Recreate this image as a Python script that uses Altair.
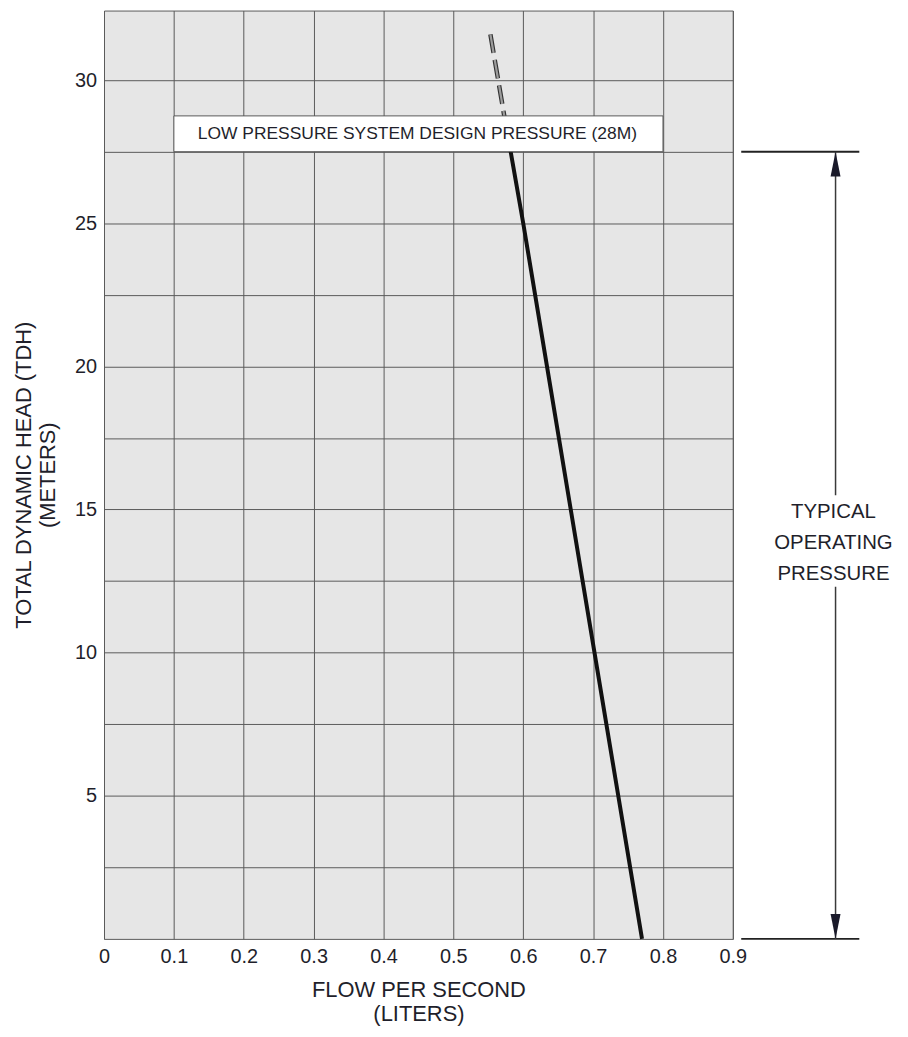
import altair as alt
import pandas as pd

# ---- data ----
flow_solid = [0.770, 0.736, 0.702, 0.668, 0.634, 0.600, 0.582, 0.576]
head_solid = [0.0, 5.0, 10.0, 15.0, 20.0, 25.0, 27.5, 28.3]
flow_dash = [0.553, 0.576]
head_dash = [31.6, 28.3]

x_ticks = [0, 0.1, 0.2, 0.3, 0.4, 0.5, 0.6, 0.7, 0.8, 0.9]
y_ticks = [2.5, 5, 7.5, 10, 12.5, 15, 17.5, 20, 22.5, 25, 27.5, 30]

design_label = "LOW PRESSURE SYSTEM DESIGN PRESSURE (28M)"
design_box_x = [0.1, 0.8]
design_box_y = [27.5, 28.75]

typical_label = ["TYPICAL", "OPERATING", "PRESSURE"]
typical_range = [0.0, 27.5]          # head range spanned by the dimension
dim_x = [0.912, 1.081]               # extent of the dimension's end lines
dim_line_x = 1.047
dim_gap = [12.3, 15.5]               # gap in the dimension line for its label
typical_text_y = 14.92

FONT = "Liberation Sans, Arial, Helvetica, sans-serif"
TXT = "#1f1f2b"

X_DOMAIN = [0, 0.9]
Y_DOMAIN = [0, 32.43]

xs = alt.Scale(domain=X_DOMAIN, nice=False, zero=False)
ys = alt.Scale(domain=Y_DOMAIN, nice=False, zero=False)

x_axis = alt.Axis(
    values=x_ticks, format=".1~f", grid=True, gridColor="#5a5a5a", gridWidth=1,
    ticks=False, tickSize=0, domain=False, labelPadding=8, labelFlush=False,
    labelFont=FONT, labelFontSize=20, labelColor=TXT,
    title=["FLOW PER SECOND", "(LITERS)"], titleFont=FONT, titleFontSize=22,
    titleFontWeight="normal", titleColor=TXT, titleLineHeight=24,
    titleBaseline="middle", titleY=51,
)
y_axis = alt.Axis(
    values=y_ticks, labelExpr="datum.value % 5 === 0 ? datum.label : ''",
    grid=True, gridColor="#5a5a5a", gridWidth=1, labelFlush=False,
    ticks=False, tickSize=0, domain=False, labelPadding=7.5,
    labelFont=FONT, labelFontSize=20, labelColor=TXT,
    title=["TOTAL DYNAMIC HEAD (TDH)", "(METERS)"], titleFont=FONT, titleFontSize=22,
    titleFontWeight="normal", titleColor=TXT, titleLineHeight=24,
    titleAngle=270, titleBaseline="middle", titleX=-81, titleY=466.5,
)

X = alt.X("x:Q", scale=xs, axis=x_axis)
Y = alt.Y("y:Q", scale=ys, axis=y_axis)

solid_df = pd.DataFrame({"x": flow_solid, "y": head_solid, "o": list(range(len(flow_solid)))})
dash_df = pd.DataFrame({"x": flow_dash, "y": head_dash, "o": list(range(len(flow_dash)))})

solid = alt.Chart(solid_df).mark_line(color="#111111", strokeWidth=4, strokeCap="butt").encode(
    x=X, y=Y, order="o:Q")
dash_outer = alt.Chart(dash_df).mark_line(color="#333333", strokeWidth=4.5, strokeDash=[19, 7],
                                          strokeCap="butt").encode(x=X, y=Y, order="o:Q")
dash_inner = alt.Chart(dash_df).mark_line(color="#9c9c9c", strokeWidth=2.2, strokeDash=[19, 7],
                                          strokeCap="butt").encode(x=X, y=Y, order="o:Q")

box_df = pd.DataFrame({"x": [design_box_x[0]], "x2": [design_box_x[1]],
                       "y": [design_box_y[0]], "y2": [design_box_y[1]]})
box = alt.Chart(box_df).mark_rect(fill="white", stroke="#5a5a5a", strokeWidth=1).encode(
    x=X, x2="x2:Q", y=Y, y2="y2:Q")
box_text_df = pd.DataFrame({"x": [sum(design_box_x) / 2 - 0.0015], "y": [sum(design_box_y) / 2],
                            "t": [design_label]})
box_text = alt.Chart(box_text_df).mark_text(font=FONT, fontSize=17.5, color=TXT, align="center",
                                            baseline="middle").encode(x=X, y=Y, text="t:N")

# dimension lines on the right
ends_df = pd.DataFrame({"x": [dim_x[0], dim_x[0]], "x2": [dim_x[1], dim_x[1]],
                        "y": typical_range})
ends = alt.Chart(ends_df).mark_rule(color="#222222", strokeWidth=2).encode(x=X, x2="x2:Q", y=Y)
vert_df = pd.DataFrame({"x": [dim_line_x, dim_line_x],
                        "y": [typical_range[0], dim_gap[1]],
                        "y2": [dim_gap[0], typical_range[1]]})
vert = alt.Chart(vert_df).mark_rule(color="#3a3a3a", strokeWidth=1.5).encode(x=X, y=Y, y2="y2:Q")

arrow_up = "M0,0L0.4,2L-0.4,2Z"
arrow_down = "M0,0L0.4,-2L-0.4,-2Z"
up_df = pd.DataFrame({"x": [dim_line_x], "y": [typical_range[1]]})
down_df = pd.DataFrame({"x": [dim_line_x], "y": [typical_range[0]]})
arr_up = alt.Chart(up_df).mark_point(shape=arrow_up, filled=True, size=625, color="#1a1a2a",
                                     opacity=1).encode(x=X, y=Y)
arr_down = alt.Chart(down_df).mark_point(shape=arrow_down, filled=True, size=625, color="#1a1a2a",
                                         opacity=1).encode(x=X, y=Y)

typ_df = pd.DataFrame({"x": [dim_line_x - 0.003], "y": [typical_text_y],
                       "t": [typical_label]})
typ = alt.Chart(typ_df).mark_text(font=FONT, fontSize=20.5, color=TXT, align="center",
                                  baseline="middle", lineHeight=31.5).encode(x=X, y=Y, text="t")

chart = alt.layer(
    solid, dash_outer, dash_inner, box, box_text, ends, vert, arr_up, arr_down, typ
).properties(
    width=632, height=933,
    autosize=alt.AutoSizeParams(type="none"),
    padding={"left": 96.5, "top": 0, "right": 168, "bottom": 88},
    background="white",
).configure_view(
    fill="#e6e6e6", stroke="#5a5a5a", strokeWidth=1
)

chart.save("out.html", embed_options={"renderer": "svg", "actions": False})
